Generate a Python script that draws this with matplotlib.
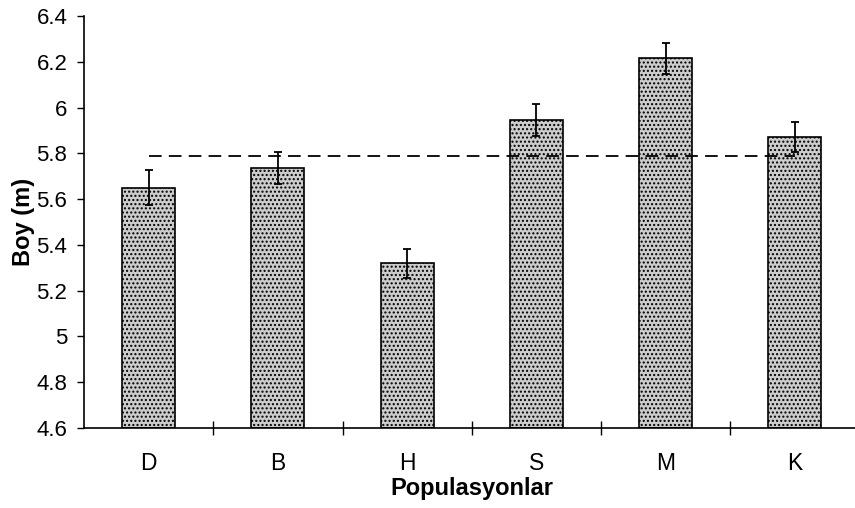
import matplotlib
matplotlib.use("Agg")
import matplotlib.pyplot as plt

categories = ["D", "B", "H", "S", "M", "K"]
means = [5.65, 5.735, 5.32, 5.945, 6.215, 5.87]
errors = [0.077, 0.07, 0.063, 0.07, 0.068, 0.065]
overall_mean = 5.79
yticks = [4.6, 4.8, 5.0, 5.2, 5.4, 5.6, 5.8, 6.0, 6.2, 6.4]
ytick_labels = ["4.6", "4.8", "5", "5.2", "5.4", "5.6", "5.8", "6", "6.2", "6.4"]

plt.rcParams['font.family'] = ['Liberation Sans', 'DejaVu Sans']
plt.rcParams['hatch.linewidth'] = 1.0
plt.rcParams['hatch.color'] = '#444444'

fig = plt.figure(figsize=(8.55, 5.08), dpi=100)
ax = fig.add_axes([84/855, 1-428/508, 775.5/855, (428-16)/508])

x = list(range(len(categories)))
ax.bar(x, [m - 4.6 for m in means], bottom=4.6, width=0.41,
       facecolor='#cccccc', edgecolor='black', linewidth=1.2, hatch='....', zorder=2)
ax.errorbar(x, means, yerr=errors, fmt='none', ecolor='black', elinewidth=1.3,
            capsize=3, capthick=1.3, zorder=4)
ax.plot([0, 5], [overall_mean, overall_mean], color='black', linestyle=(0, (7, 4)),
        linewidth=1.3, zorder=3)

ax.set_xlim(-0.5, 5.5)
ax.set_ylim(4.6, 6.4)
ax.set_yticks(yticks)
ax.set_yticklabels(ytick_labels, fontsize=16)
ax.set_xticks([i + 0.5 for i in range(0, 5)])
ax.set_xticklabels([])
ax.set_xticks(x, minor=True)
ax.set_xticklabels(categories, minor=True, fontsize=16.5)
ax.tick_params(axis='x', which='minor', length=0, pad=17)
ax.tick_params(axis='x', which='major', direction='inout', length=10, width=1)
ax.tick_params(axis='y', direction='out', length=5, width=1, pad=7)

for s in ['top', 'right']:
    ax.spines[s].set_visible(False)
ax.spines['left'].set_linewidth(1.2)
ax.spines['bottom'].set_linewidth(1.2)

ax.set_xlabel("Populasyonlar", fontsize=17, fontweight='bold', labelpad=2)
ax.set_ylabel("Boy (m)", fontsize=17, fontweight='bold', labelpad=1)

fig.savefig("out.png", dpi=100)
